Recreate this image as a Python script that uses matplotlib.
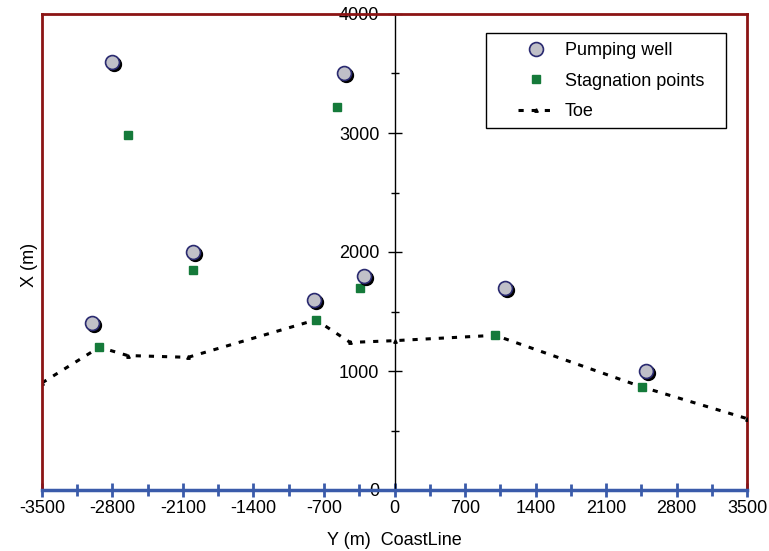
import matplotlib
matplotlib.use("Agg")
import matplotlib.pyplot as plt
import matplotlib.transforms as mtransforms
from matplotlib.lines import Line2D
from matplotlib.patches import Rectangle

plt.rcParams['font.family'] = ['Liberation Sans', 'DejaVu Sans']

# Pumping wells
well_y = [-2800, -2000, -3000, -500, -800, -300, 1100, 2500]
well_x = [3600, 2000, 1400, 3500, 1600, 1800, 1700, 1000]
# Stagnation points
stag_y = [-2650, -2000, -2930, -570, -780, -340, 1000, 2460]
stag_x = [2980, 1850, 1200, 3220, 1430, 1700, 1300, 865]
# Toe
toe_y = [-3500, -2930, -2650, -2050, -780, -440, 0, 1000, 2460, 3500]
toe_x = [900, 1200, 1130, 1115, 1430, 1240, 1255, 1300, 865, 600]

xticks = [-3500, -2800, -2100, -1400, -700, 0, 700, 1400, 2100, 2800, 3500]
yticks = [0, 1000, 2000, 3000, 4000]

W, H = 769, 551
fig = plt.figure(figsize=(W/100, H/100), dpi=100)
ax = fig.add_axes([42/W, 1-490/H, 705/W, 476/H])
ax.set_xlim(-3500, 3500)
ax.set_ylim(0, 4000)

red = '#8B1414'
blue = '#3A5BAA'
fs = 13

# toe line
ax.plot(toe_y, toe_x, color='black', lw=2.2, dashes=(1.7, 2.6),
        marker='^', ms=2.5, zorder=3, label='Toe')

# stagnation points
ax.plot(stag_y, stag_x, ls='none', marker='s', ms=6, color='#157A3A',
        mec='#157A3A', zorder=4, label='Stagnation points')

# pumping wells with shadow
shadow = mtransforms.offset_copy(ax.transData, fig=fig, x=2, y=-2, units='dots')
ax.plot(well_y, well_x, ls='none', marker='o', ms=10, color='black',
        mec='black', transform=shadow, zorder=5)
ax.plot(well_y, well_x, ls='none', marker='o', ms=10, mfc='#C0C0C8',
        mec='#2A2A70', mew=1.2, zorder=6, label='Pumping well')

# spines
ax.spines['top'].set_color(red)
ax.spines['top'].set_linewidth(2)
ax.spines['right'].set_color(red)
ax.spines['right'].set_linewidth(2)
ax.spines['bottom'].set_color(blue)
ax.spines['bottom'].set_linewidth(2.5)
ax.spines['bottom'].set_zorder(7)
ax.spines['left'].set_position(('data', 0))
ax.spines['left'].set_color('black')
ax.spines['left'].set_linewidth(1)
ax.add_line(Line2D([0, 0], [0, 1], transform=ax.transAxes, color=red,
                   lw=2, clip_on=False, zorder=7))

ax.set_xticks(xticks)
ax.set_xticklabels([str(v) for v in xticks])
ax.set_xticks([v + 350 for v in xticks[:-1]], minor=True)
ax.set_yticks(yticks)
ax.set_yticklabels([str(v) for v in yticks])
ax.set_yticks([500, 1500, 2500, 3500], minor=True)

ax.tick_params(axis='x', which='both', direction='inout', color=blue,
               width=2, labelsize=fs, pad=2)
ax.tick_params(axis='x', which='major', length=10)
ax.tick_params(axis='x', which='minor', length=8)
ax.tick_params(axis='y', which='both', direction='inout', color='black',
               width=1, labelsize=fs, pad=6)
ax.tick_params(axis='y', which='major', length=10)
ax.tick_params(axis='y', which='minor', length=6)

ax.set_xlabel('Y (m)  CoastLine', fontsize=fs, labelpad=11)
fig.text(30/W, 1-265/H, 'X (m)', rotation=90, fontsize=fs,
         ha='center', va='center')

# legend frame
ax.add_patch(Rectangle((486/W, 1-128/H), 240/W, 95/H,
                       transform=fig.transFigure, facecolor='white',
                       edgecolor='black', lw=1, zorder=9, clip_on=False))

h, l = ax.get_legend_handles_labels()
order = [2, 1, 0]
leg = ax.legend([h[i] for i in order], [l[i] for i in order],
                loc='upper left', bbox_to_anchor=(518/W, 1-42/H),
                bbox_transform=fig.transFigure, borderaxespad=0,
                fontsize=fs, frameon=False, handlelength=2.0,
                borderpad=0, labelspacing=0.75, handletextpad=0.6)
leg.set_zorder(10)

fig.savefig('out.png', dpi=100)
